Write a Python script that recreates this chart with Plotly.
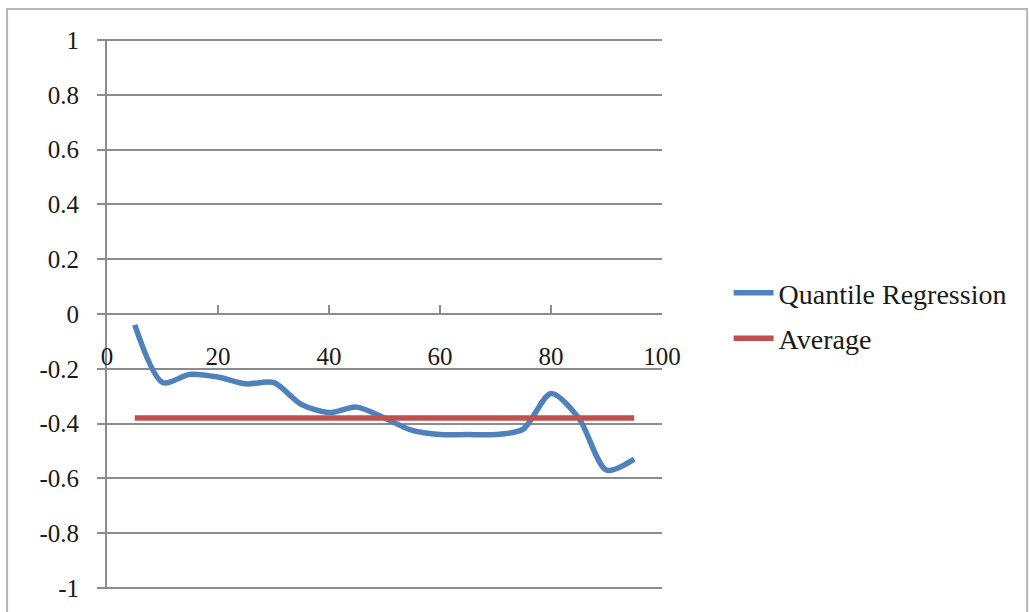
import plotly.graph_objects as go

# Quantile levels and estimated coefficients
quantiles = [5, 10, 15, 20, 25, 30, 35, 40, 45, 50, 55, 60, 65, 70, 75, 80, 85, 90, 95]
qr_coef = [-0.04, -0.25, -0.22, -0.23, -0.255, -0.25, -0.33, -0.36, -0.34, -0.38,
           -0.425, -0.44, -0.44, -0.44, -0.42, -0.29, -0.38, -0.57, -0.53]
avg_coef = [-0.38] * len(quantiles)

x_ticks = [0, 20, 40, 60, 80, 100]
y_ticks = [1, 0.8, 0.6, 0.4, 0.2, 0, -0.2, -0.4, -0.6, -0.8, -1]
y_labels = ["1", "0.8", "0.6", "0.4", "0.2", "0", "-0.2", "-0.4", "-0.6", "-0.8", "-1"]

BLUE = "#4F81BD"
RED = "#C0504D"
GRID = "#8c8c8c"
FAMILY = "Liberation Serif, DejaVu Serif, serif"
TICK_FONT = dict(family=FAMILY, size=25, color="#1a1a1a")

fig = go.Figure()
# blue curve lives on the label axis, red line on the zero-crossing axis
fig.add_trace(go.Scatter(x=quantiles, y=qr_coef, mode="lines", name="Quantile Regression",
                         legendgroup="qr",
                         line=dict(color=BLUE, width=5.5, shape="spline", smoothing=0.8),
                         xaxis="x"))
fig.add_trace(go.Scatter(x=quantiles, y=avg_coef, mode="lines", name="Average",
                         legendgroup="avg",
                         line=dict(color=RED, width=5.5), xaxis="x2"))

fig.update_layout(
    width=1029, height=612,
    margin=dict(l=107, r=367, t=39, b=23),
    paper_bgcolor="white", plot_bgcolor="white",
    showlegend=True,
    legend=dict(x=1.12, y=0.497, xanchor="left", yanchor="middle",
                font=dict(size=28, family=FAMILY, color="#1a1a1a"),
                tracegroupgap=6, itemwidth=40, bgcolor="rgba(0,0,0,0)"),
    # axis carrying only the tick labels, sitting just under the zero line
    xaxis=dict(range=[0, 100], tickvals=x_ticks, ticktext=[str(v) for v in x_ticks],
               tickfont=TICK_FONT, automargin=False,
               showline=False, showgrid=False, zeroline=False, ticks="",
               anchor="free", position=0.455, side="bottom", fixedrange=True),
    # axis drawn through y = 0 with upward tick marks
    xaxis2=dict(range=[0, 100], tickvals=x_ticks, showticklabels=False,
                showline=True, linecolor=GRID, linewidth=2, automargin=False,
                ticks="inside", ticklen=8, tickcolor=GRID, tickwidth=2,
                showgrid=False, zeroline=False,
                overlaying="x", anchor="free", position=0.5),
    yaxis=dict(range=[-1.004, 1.004], tickvals=y_ticks, ticktext=y_labels,
               tickfont=TICK_FONT, automargin=False,
               showgrid=True, gridcolor=GRID, gridwidth=2,
               showline=True, linecolor=GRID, linewidth=2,
               ticks="outside", ticklen=8, tickcolor=GRID, tickwidth=2,
               zeroline=False, ticklabelstandoff=13),
)

# light frame around the whole chart
fig.add_shape(type="rect", xref="paper", yref="paper",
              x0=-0.18, x1=1.658, y0=-0.2, y1=1.0545,
              line=dict(color="#b5b5b5", width=2), layer="below")

fig.write_html("out.html")
